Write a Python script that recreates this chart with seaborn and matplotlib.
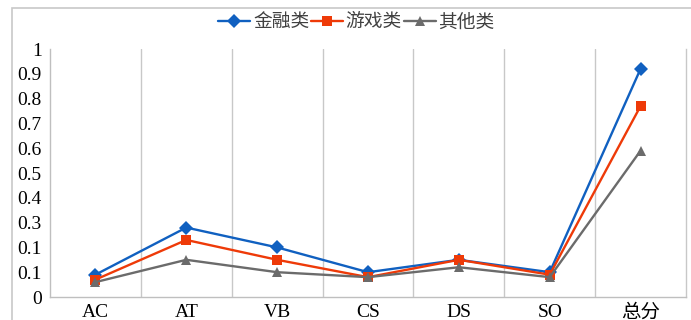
import pandas as pd
import matplotlib
matplotlib.use("Agg")
import matplotlib.pyplot as plt
import seaborn as sns
from matplotlib.patches import Rectangle

# Data
categories = ["AC", "AT", "VB", "CS", "DS", "SO", "总分"]
finance = [0.09, 0.28, 0.20, 0.10, 0.15, 0.10, 0.92]
games = [0.07, 0.23, 0.15, 0.08, 0.15, 0.09, 0.77]
others = [0.06, 0.15, 0.10, 0.08, 0.12, 0.08, 0.59]
series_names = ["金融类", "游戏类", "其他类"]
y_ticks = [0, 0.1, 0.2, 0.3, 0.4, 0.5, 0.6, 0.7, 0.8, 0.9, 1.0]
y_tick_labels = ["0", "0.1", "0.1", "0.3", "0.4", "0.5", "0.6", "0.7", "0.8", "0.9", "1"]

df = pd.DataFrame({
    "cat": categories * 3,
    "value": finance + games + others,
    "series": [series_names[0]] * 7 + [series_names[1]] * 7 + [series_names[2]] * 7,
})

sns.set_style("white")
plt.rcParams["font.family"] = ["Liberation Serif", "Noto Sans CJK SC"]

palette = {"金融类": "#1060C0", "游戏类": "#EE3A08", "其他类": "#6B6B6B"}
markers = {"金融类": "D", "游戏类": "s", "其他类": "^"}

fig = plt.figure(figsize=(6.91, 3.2), dpi=100)
ax = fig.add_axes([50 / 691, 1 - 297 / 320, 636 / 691, 248 / 320])

# outer frame
fig.patches.append(Rectangle((12 / 691, -0.05), 1.0, 1 - 8 / 320 + 0.05,
                             transform=fig.transFigure, fill=False,
                             edgecolor="#C8C8C8", linewidth=1.2))

sns.lineplot(data=df, x="cat", y="value", hue="series", style="series",
             palette=palette, markers=markers, dashes=False, linewidth=1.7,
             markersize=7, markeredgewidth=0, sort=False, ax=ax)

ax.set_xlim(-0.5, len(categories) - 0.5)
ax.set_ylim(0, 1)
ax.set_yticks(y_ticks)
ax.set_yticklabels(y_tick_labels)
ax.set_xticks(range(len(categories)))
ax.set_xticklabels(categories)
ax.set_xlabel("")
ax.set_ylabel("")

# vertical separators between categories
for x in [i + 0.5 for i in range(len(categories) - 1)]:
    ax.axvline(x, color="#C8C8C8", linewidth=1.0, zorder=0)

ax.spines["top"].set_visible(False)
ax.spines["left"].set_color("#BFBFBF")
ax.spines["bottom"].set_color("#BFBFBF")
ax.spines["right"].set_color("#C8C8C8")
for s in ax.spines.values():
    s.set_linewidth(1.0)

ax.tick_params(axis="y", length=0, pad=6, labelsize=14, colors="#000000")
ax.tick_params(axis="x", length=0, pad=5, labelsize=14, colors="#000000")

handles, labels = ax.get_legend_handles_labels()
ax.get_legend().remove()
fig.legend(handles, labels, loc="center", bbox_to_anchor=(0.516, 0.929),
           ncol=3, frameon=False, fontsize=13.5, handlelength=1.7,
           handletextpad=0.15, columnspacing=0.1, labelcolor="#404040")

fig.savefig("out.png", dpi=100)
